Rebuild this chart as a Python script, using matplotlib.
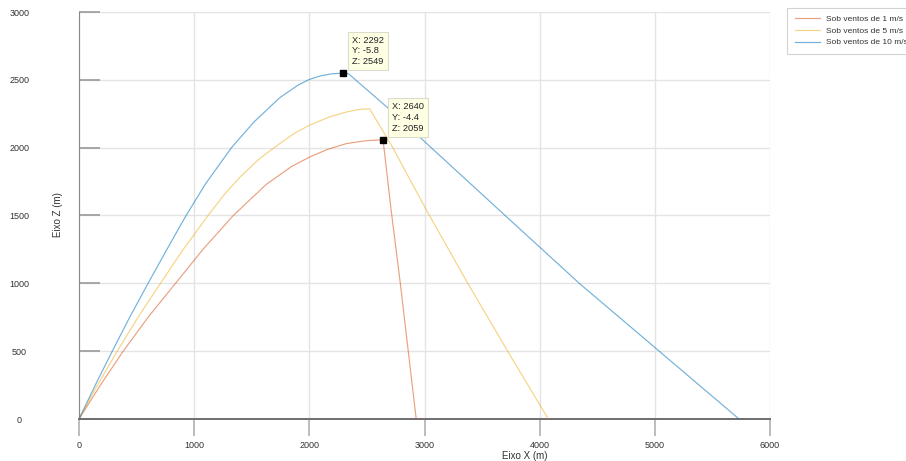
import matplotlib
matplotlib.use("Agg")
import matplotlib.pyplot as plt

plt.rcParams['font.family'] = ['Liberation Sans', 'DejaVu Sans']

# trajectories (x, z in metres)
x_1ms = [0, 190, 384, 600, 838, 1080, 1340, 1627, 1844, 2000, 2160, 2321, 2480, 2640,
         2711, 2790, 2928]
z_1ms = [0, 255, 500, 750, 1000, 1254, 1500, 1730, 1860, 1930, 1988, 2030, 2050, 2059,
         1535, 1000, 0]

x_5ms = [0, 150, 332, 520, 708, 900, 1121, 1260, 1400, 1570, 1743, 1870, 2000, 2170, 2321,
         2420, 2523, 2725, 2870, 3043, 3376, 3722, 4075]
z_5ms = [0, 235, 500, 760, 1000, 1244, 1500, 1653, 1785, 1921, 2030, 2106, 2165, 2225, 2263,
         2280, 2287, 2000, 1770, 1500, 1000, 500, 0]

x_10ms = [0, 150, 289, 440, 600, 760, 930, 1100, 1324, 1520, 1743, 1900, 2000, 2100, 2200,
          2292, 2340, 2697, 3058, 3700, 4003, 4344, 5038, 5731]
z_10ms = [0, 265, 500, 750, 1000, 1245, 1500, 1735, 2000, 2190, 2368, 2460, 2503, 2530, 2545,
          2549, 2545, 2282, 2000, 1500, 1265, 1000, 500, 0]

labels = ['Sob ventos de 1 m/s', 'Sob ventos de 5 m/s', 'Sob ventos de 10 m/s']
colors = ['#d95319', '#edb120', '#0072bd']

# data tips: (x, y, z)
tips = [(2292, -5.8, 2549), (2640, -4.4, 2059)]

xticks = [0, 1000, 2000, 3000, 4000, 5000, 6000]
zticks = [0, 500, 1000, 1500, 2000, 2500, 3000]

fig = plt.figure(figsize=(9.06, 4.61), dpi=100)
ax = fig.add_axes([79 / 906, 42 / 461, 691 / 906, 407 / 461])

for xs, zs, lab, c in zip([x_1ms, x_5ms, x_10ms], [z_1ms, z_5ms, z_10ms], labels, colors):
    ax.plot(xs, zs, color=c, lw=0.85, alpha=0.55, label=lab, zorder=3)

ax.set_xlim(0, 6000)
ax.set_ylim(0, 3000)
ax.set_xticks(xticks)
ax.set_yticks(zticks)
ax.grid(True, color='#e4e4e4', lw=1.0, zorder=0)

for s in ['top', 'right']:
    ax.spines[s].set_visible(False)
ax.spines['left'].set_color('#888888')
ax.spines['bottom'].set_color('#6e6e6e')
ax.spines['bottom'].set_linewidth(1.4)

ax.tick_params(axis='x', direction='out', length=12, width=1.2, color='#b0b0b0',
               labelsize=6.5, labelcolor='#333333', pad=3.5)
ax.tick_params(axis='y', direction='in', length=15, width=1.2, color='#9a9a9a',
               labelsize=6.5, labelcolor='#333333', pad=43)
for t in ax.get_yticklabels():
    t.set_horizontalalignment('center')

for (tx, ty, tz) in tips:
    ax.plot(tx, tz, 's', color='black', ms=5, zorder=5)
    ax.annotate('X: %d\nY: %s\nZ: %d' % (tx, ty, tz), xy=(tx, tz), xytext=(6.5, 5.0),
                textcoords='offset points', ha='left', va='bottom', fontsize=6.7,
                color='#222222', linespacing=1.25, zorder=6,
                bbox=dict(boxstyle='square,pad=0.45', fc='#ffffe4', ec='#dcdccc', lw=0.8))

fig.text(58 / 906, 1 - 215 / 461, 'Eixo Z (m)', rotation=90, ha='center', va='center',
         fontsize=7, color='#333333')
fig.text(525 / 906, 1 - 456 / 461, 'Eixo X (m)', ha='center', va='center',
         fontsize=7, color='#333333')

leg = fig.legend(loc='upper left', bbox_to_anchor=(787 / 906, 1 - 8 / 461),
                 bbox_transform=fig.transFigure, fontsize=6, frameon=True, fancybox=False,
                 borderaxespad=0, borderpad=0.9, handlelength=3.1, handletextpad=0.7,
                 labelspacing=0.45)
leg.get_frame().set_edgecolor('#c8c8c8')
leg.get_frame().set_linewidth(0.8)
for t in leg.get_texts():
    t.set_color('#333333')

fig.savefig('out.png', dpi=100)
